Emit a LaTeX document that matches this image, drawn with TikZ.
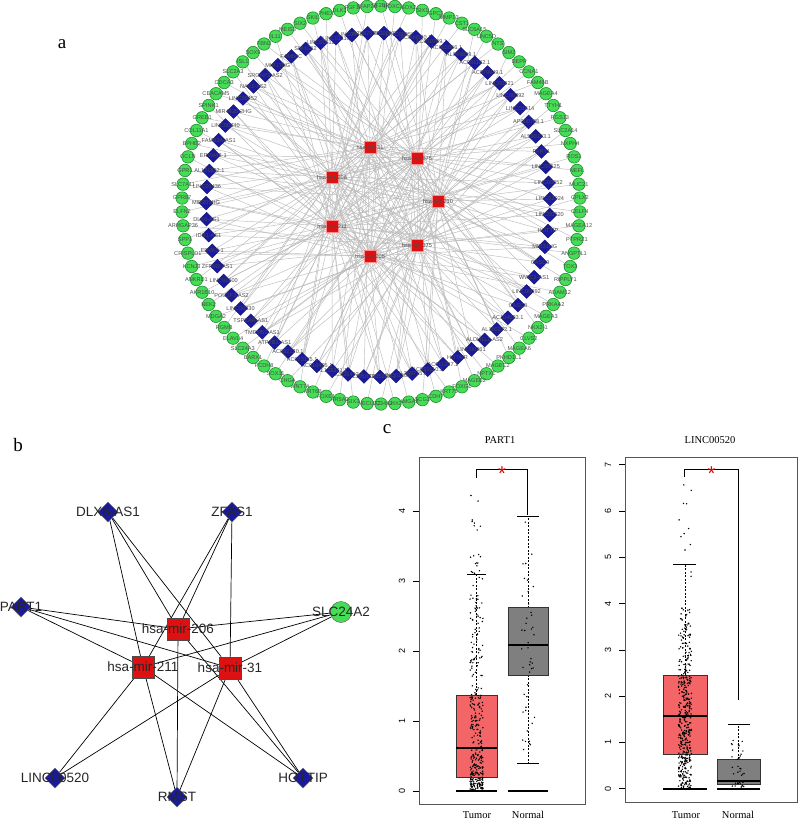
\documentclass[tikz,border=0pt]{standalone}
\usepackage{fontspec}
\setmainfont{Liberation Sans}
\newfontfamily\seriff{Liberation Serif}
\usetikzlibrary{shapes.geometric}
\pgfdeclarelayer{bg}
\pgfsetlayers{bg,main}
\definecolor{gfill}{HTML}{44DD55}
\definecolor{gdraw}{HTML}{1E8C2E}
\definecolor{bfill}{HTML}{1A1A9E}
\definecolor{rfill}{HTML}{DD1111}
\definecolor{edgeg}{HTML}{BBBBBB}
\definecolor{boxred}{HTML}{F46567}
\definecolor{boxgray}{HTML}{7F7F7F}
\definecolor{framec}{HTML}{555555}
\newcommand\jitpts[4]{%
 \foreach \k in {1,...,#4}{%
  \pgfmathsetmacro\uu{rnd}%
  \pgfmathsetmacro\vv{\uu<0.25 ? \qA+(\qB-\qA)*\uu*4 : (\uu<0.5 ? \qB+(\qC-\qB)*(\uu-0.25)*4 : (\uu<0.75 ? \qC+(\qD-\qC)*(\uu-0.5)*4 : (\uu<0.95 ? \qD+(\qE-\qD)*(\uu-0.75)*5 : \qE+(\qF-\qE)*(\uu-0.95)*20)))}%
  \pgfmathsetmacro\xx{#1+6.5*rand}%
  \pgfmathsetmacro\yy{#2-#3*\vv}%
  \fill (\xx,\yy) circle (0.8);
 }}
\begin{document}
\begin{tikzpicture}[x=1pt,y=-1pt,
  gnode/.style={circle,draw=gdraw,fill=gfill,minimum size=12.5pt,inner sep=0pt,line width=0.6pt},
  dnode/.style={diamond,draw=bfill!70!black,fill=bfill,minimum size=14pt,inner sep=0pt,line width=0.4pt},
  mnode/.style={rectangle,draw=red!45,fill=rfill,minimum size=12pt,inner sep=0pt,line width=0.6pt},
  alab/.style={font=\fontsize{5.6}{6}\selectfont,text=black!70,inner sep=0pt},
  aedge/.style={draw=edgeg,line width=0.45pt},
  bdn/.style={diamond,draw=black!60,fill=bfill,minimum size=20pt,inner sep=0pt,line width=0.5pt},
  bmn/.style={rectangle,draw=black!70,fill=rfill,minimum size=22pt,inner sep=0pt,line width=0.5pt},
  bgn/.style={circle,draw=black!60,fill=gfill,minimum size=21pt,inner sep=0pt,line width=0.5pt},
  blab/.style={font=\fontsize{13.5}{14}\selectfont,text=black!85,inner sep=0pt},
  bedge/.style={draw=black,line width=0.7pt},
  plab/.style={font=\seriff\fontsize{19}{20}\selectfont,inner sep=0pt},
  ttl/.style={font=\seriff\fontsize{10.5}{11}\selectfont,inner sep=0pt},
  tck/.style={font=\fontsize{9}{10}\selectfont,inner sep=0pt,rotate=90},
  whisk/.style={dashed,dash pattern=on 2pt off 1.5pt,line width=0.5pt},
  capl/.style={line width=0.8pt},
  star/.style={text=red!85!black,font=\fontsize{20}{20}\selectfont,inner sep=0pt}
]
\useasboundingbox (0,0) rectangle (800,820);
\pgfmathsetseed{12345}

% ---------------- panel a ----------------
\node[plab] (la) at (62,44) {a};

\foreach \nm [count=\i] in {IGF2BP1,HOXC10,SOX2,SIX1,GPC3,MMP13,CST1,SLC6A15,UNC5D,NTS,SIM2,DEPP,CCNA1,FAM46B,MAGEA4,TTYH1,RGS13,SLC2A14,NXPH4,ROS1,NEFL,MUC21,CPLX2,CELF4,MAGEA12,PTPRZ1,ANGPTL1,TOX3,RIPPLY1,ADAM12,PRKAA2,MAGEA3,NKX2-1,CLVS2,MAGEA6,PKHD1L1,MAGEC2,NPTX1,MAGEB2,FOXG1,KRT75,CDH7,SCG3,HMGA2,LHX2,SLC34A2,ONECUT2,SIX3,NR5A2,FOXE1,KRT6B,WNT7A,CHGA,SOX11,PCDH8,BARX1,SLC24A3,ELAVL4,RGMB,MDGA2,NEK2,AKR1B10,ANKRD1,KCNJ3,CRISPLD1,SPP1,ARHGAP36,ELFN2,GPR87,SLC7A11,GPR1,OCLN,EPHB2,COL11A1,GREB1,SPINK1,CEACAM5,CDCA3,SLC2A3,ISL1,SOX9,FBN3,IL11,MEIS3,SIX2,SKIL,PHEX,DLK1,FGF19,TFAP2B}{
  \pgfmathsetmacro\ang{-90+(\i-1)*4}
  \path (381,205) ++(\ang:199) node[gnode] (g\i) {};
  \node[alab] at (g\i) {\nm};
}

\foreach \nm [count=\i] in {LINC00473,LINC00958,AC004540.1,AC010789.1,AC002066.1,AL049839.1,AC091182.1,AC079949.1,LINC00221,LINC00392,LINC01614,AP000708.1,AL590133.1,PART1,LINC00525,LINC00052,LINC02024,LINC00520,HOTTIP,MIR31HG,CASC9,WWC2-AS1,LINC00092,CASC8,AC104083.1,AL160272.1,ALDH1L1-AS2,LINC00261,HOTAIR,AC011287.1,AC093110.1,AL359715.1,LINC01305,AC005288.1,AL391832.1,AC026403.1,AL133371.1,AC016405.1,AC073115.1,AC092120.1,ATP2B1-AS1,TMEM51-AS1,TSPEAR-AS1,LINC00330,POU3F3-AS2,LINC01600,ZFPM2-AS1,ERVK3-1,IDH1-AS1,DLX6-AS1,MIR205HG,LINC01436,AL121832.1,ERVH48-1,FAM83A-AS1,LINC00440,MIR4435-2HG,LINC00452,NAV2-AS2,SRGAP3-AS2,MIR17HG,FAM66C,SNHG12,LINC00511,LINC01116,LINC00467,AC087521.1}{
  \pgfmathsetmacro\ang{-88+(\i-1)*5.373}
  \path (378,205) ++(\ang:172) node[dnode] (d\i) {};
  \node[alab] at (d\i) {\nm};
}

\node[mnode] (m1) at (370,147) {}; \node[alab] at (m1) {hsa-mir-31};
\node[mnode] (m2) at (417,158) {}; \node[alab] at (m2) {hsa-mir-675};
\node[mnode] (m3) at (332,177) {}; \node[alab] at (m3) {hsa-mir-206};
\node[mnode] (m4) at (438,201) {}; \node[alab] at (m4) {hsa-mir-210};
\node[mnode] (m5) at (332,226) {}; \node[alab] at (m5) {hsa-mir-211};
\node[mnode] (m6) at (417,245) {}; \node[alab] at (m6) {hsa-mir-375};
\node[mnode] (m7) at (370,256) {}; \node[alab] at (m7) {hsa-mir-205};

\begin{pgfonlayer}{bg}
\foreach \i in {1,...,90}{
  \pgfmathtruncatemacro\mm{mod(\i*3,7)+1}
  \draw[aedge] (m\mm) -- (g\i);
}
\foreach \i in {1,...,67}{
  \pgfmathtruncatemacro\ma{mod(\i,7)+1}
  \pgfmathtruncatemacro\mb{mod(\i+3,7)+1}
  \pgfmathtruncatemacro\mc{mod(\i+5,7)+1}
  \draw[aedge] (m\ma) -- (d\i);
  \draw[aedge] (m\mb) -- (d\i);
  \draw[aedge] (m\mc) -- (d\i);
}
\end{pgfonlayer}

% ---------------- panel b ----------------
\node[plab] (lb) at (18,445) {b};
\node[bdn] (bD) at (108,512) {}; \node[blab] at (bD) {DLX6-AS1};
\node[bdn] (bZ) at (232,512) {}; \node[blab] at (bZ) {ZFAS1};
\node[bdn] (bP) at (21,607) {};  \node[blab] at (bP) {PART1};
\node[bgn] (bS) at (341,612) {}; \node[blab] at (bS) {SLC24A2};
\node[bmn] (b206) at (178,629) {}; \node[blab] at (b206) {hsa-mir-206};
\node[bmn] (b211) at (143,667) {}; \node[blab] at (b211) {hsa-mir-211};
\node[bmn] (b31) at (230,668) {};  \node[blab] at (b31) {hsa-mir-31};
\node[bdn] (bL) at (55,778) {};  \node[blab] at (bL) {LINC00520};
\node[bdn] (bR) at (177,797) {}; \node[blab] at (bR) {RMST};
\node[bdn] (bH) at (303,778) {}; \node[blab] at (bH) {HOTTIP};
\begin{pgfonlayer}{bg}
\foreach \t in {bD,bZ,bP,bS,bR,bH}{
  \foreach \m in {b206,b211,b31}{ \draw[bedge] (\t) -- (\m); }
}
\draw[bedge] (bL) -- (b211);
\draw[bedge] (bL) -- (b31);
\end{pgfonlayer}

% ---------------- panel c ----------------
\node[plab] (lc) at (387,429) {c};
\node[ttl] (t1) at (500,440) {PART1};
\node[ttl] (t2) at (710,440) {LINC00520};

% left plot
\draw[framec,line width=0.8pt] (419,457) rectangle (585,804);
\foreach \v in {0,...,4}{
  \pgfmathsetmacro\yy{791-70*\v}
  \draw[line width=0.6pt] (413,\yy) -- (419,\yy);
  \node[tck] at (402,\yy) {\v};
}
% tumor
\draw[whisk] (476.5,695.1) -- (476.5,574.7);
\draw[capl] (467,574.7) -- (486,574.7);
\filldraw[fill=boxred,draw=black!80,line width=0.5pt] (456,777.7) rectangle (497,695.1);
\draw[line width=1.8pt] (456,747.6) -- (497,747.6);
% normal
\draw[whisk] (528,607.6) -- (528,516.6);
\draw[capl] (517,516.6) -- (539,516.6);
\draw[whisk] (528,674.8) -- (528,763);
\draw[capl] (517,763) -- (539,763);
\filldraw[fill=boxgray,draw=black!80,line width=0.5pt] (508,674.8) rectangle (548,607.6);
\draw[line width=1.8pt] (508,644.7) -- (548,644.7);
\def\qA{0}\def\qB{0.19}\def\qC{0.62}\def\qD{1.37}\def\qE{2.9}\def\qF{4.38}
\jitpts{476.5}{791}{70}{360}
\def\qA{0.45}\def\qB{1.66}\def\qC{2.09}\def\qD{2.62}\def\qE{3.4}\def\qF{3.92}
\jitpts{528}{791}{70}{45}
\draw[line width=2.4pt] (456,791) -- (497,791);
\draw[line width=2.4pt] (508,791) -- (548,791);
% bracket
\draw[line width=0.5pt] (476.5,478) -- (476.5,469.5) -- (527,469.5) -- (527,515);
\node[star] (s1) at (502,474) {*};

% right plot
\draw[framec,line width=0.8pt] (625,457) rectangle (797,802);
\foreach \v in {0,...,7}{
  \pgfmathsetmacro\yy{788.7-46.3*\v}
  \draw[line width=0.6pt] (619,\yy) -- (625,\yy);
  \node[tck] at (608,\yy) {\v};
}
\draw[whisk] (685,675) -- (685,564.2);
\draw[capl] (673,564.2) -- (696,564.2);
\filldraw[fill=boxred,draw=black!80,line width=0.5pt] (663,754.2) rectangle (707,675);
\draw[line width=1.8pt] (663,716) -- (707,716);
\draw[whisk] (738,759.1) -- (738,724.8);
\draw[capl] (728,724.8) -- (750,724.8);
\filldraw[fill=boxgray,draw=black!80,line width=0.5pt] (717,784.1) rectangle (760,759.1);
\draw[line width=1.8pt] (717,780.8) -- (760,780.8);
\def\qA{0}\def\qB{0.745}\def\qC{1.57}\def\qD{2.455}\def\qE{3.9}\def\qF{6.6}
\jitpts{685}{788.7}{46.3}{460}
\def\qA{0}\def\qB{0.1}\def\qC{0.17}\def\qD{0.64}\def\qE{1.1}\def\qF{1.7}
\jitpts{738}{788.7}{46.3}{40}
\draw[line width=2.4pt] (663,788.7) -- (707,788.7);
\draw[line width=2.4pt] (717,788.7) -- (760,788.7);
\draw[line width=0.5pt] (684.5,477) -- (684.5,469.5) -- (738,469.5) -- (738,700);
\node[star] (s2) at (711.5,474) {*};

\node[ttl] (x1) at (477,815) {Tumor};
\node[ttl] (x2) at (528,815) {Normal};
\node[ttl] (x3) at (686,815) {Tumor};
\node[ttl] (x4) at (738,815) {Normal};
\end{tikzpicture}
\end{document}
